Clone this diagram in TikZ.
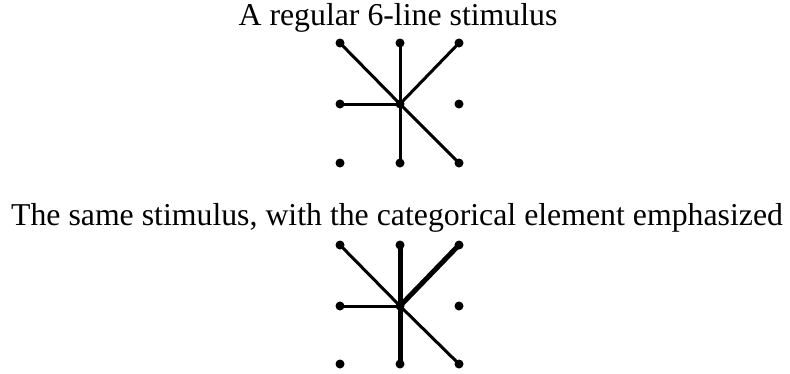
\documentclass[tikz,border=0pt]{standalone}
\usepackage{fontspec}
\setmainfont{Liberation Serif}
\usetikzlibrary{positioning}
\definecolor{ink}{HTML}{000000}

\begin{document}
\begin{tikzpicture}[x=1pt, y=-1pt,
  dot/.style={circle, fill=ink, inner sep=0pt, minimum size=9pt},
  caption/.style={anchor=base, text=ink, font=\fontsize{31.8}{36}\selectfont, inner sep=0pt},
  ln/.style={draw=ink, line width=3pt},
  lnbold/.style={draw=ink, line width=5pt}]
\useasboundingbox (0,0) rectangle (790,373);
% ---------------- regular stimulus
\node[caption] (titA) at (398,25) {A regular 6-line stimulus};
\foreach \c/\x in {l/340,m/400,r/459}{
  \foreach \r/\y in {t/43,c/104,b/163}{
    \node[dot] (a\r\c) at (\x,\y) {};
  }
}
\draw[ln] (acm.center) -- (atl.center);
\draw[ln] (acm.center) -- (atm.center);
\draw[ln] (acm.center) -- (atr.center);
\draw[ln] (acm.center) -- (acl.center);
\draw[ln] (acm.center) -- (abm.center);
\draw[ln] (acm.center) -- (abr.center);
% ---------------- emphasized stimulus
\node[caption] (titB) at (397,225) {The same stimulus, with the categorical element emphasized};
\foreach \c/\x in {l/340,m/400,r/459}{
  \foreach \r/\y in {t/245,c/306,b/364}{
    \node[dot] (b\r\c) at (\x,\y) {};
  }
}
\draw[ln] (bcm.center) -- (btl.center);
\draw[ln] (bcm.center) -- (bcl.center);
\draw[ln] (bcm.center) -- (bbr.center);
\draw[lnbold] (btm.center) -- (bbm.center);
\draw[lnbold] (bcm.center) -- (btr.center);
\end{tikzpicture}
\end{document}
